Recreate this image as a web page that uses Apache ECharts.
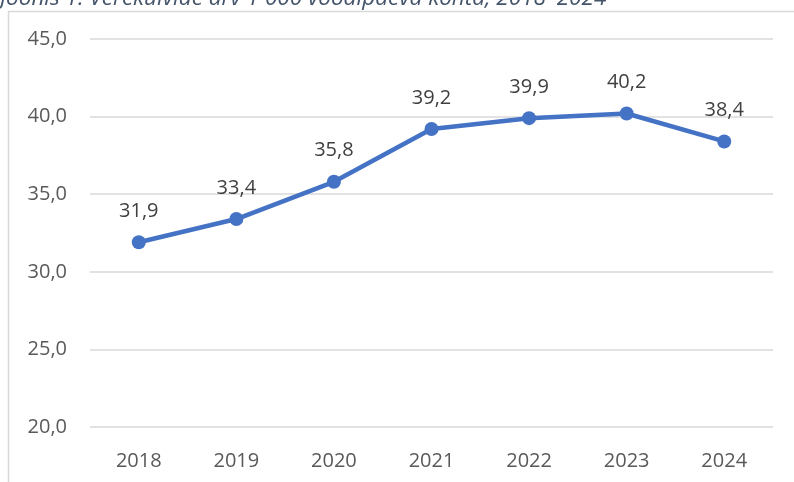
<!DOCTYPE html>
<html>
<head>
<meta charset="utf-8">
<script src="https://cdn.jsdelivr.net/npm/echarts@6/dist/echarts.min.js"></script>
<style>
  html, body { margin: 0; padding: 0; background: #fff; }
  #chart { width: 794px; height: 482px; }
</style>
</head>
<body>
<div id="chart"></div>
<script>
// Blood cultures per 1,000 bed-days by year
const years = ['2018', '2019', '2020', '2021', '2022', '2023', '2024'];
const cultures = [31.9, 33.4, 35.8, 39.2, 39.9, 40.2, 38.4];
const titleText = 'Joonis 1. Verekülvide arv 1 000 voodipäeva kohta, 2018–2024';

const fmt = v => v.toFixed(1).replace('.', ',');

const chart = echarts.init(document.getElementById('chart'), null, { renderer: 'canvas' });
chart.setOption({
  animation: false,
  backgroundColor: '#ffffff',
  textStyle: { fontFamily: 'Open Sans' },
  graphic: [
    {
      type: 'rect',
      shape: { x: 8.5, y: 11.5, width: 800, height: 500 },
      style: { fill: 'none', stroke: '#D9D9D9', lineWidth: 1.5 },
      silent: true
    },
    {
      type: 'text',
      left: 0,
      top: -13,
      style: {
        text: titleText,
        fontFamily: 'Open Sans',
        fontStyle: 'italic',
        fontSize: 22.5,
        fill: '#44546A'
      },
      silent: true
    }
  ],
  grid: { left: 90, right: 21, top: 39, bottom: 55, containLabel: false },
  xAxis: {
    type: 'category',
    data: years,
    boundaryGap: true,
    axisLine: { show: false },
    axisTick: { show: false },
    axisLabel: { color: '#595959', fontSize: 20, margin: 24 }
  },
  yAxis: {
    type: 'value',
    min: 20,
    max: 45,
    interval: 5,
    axisLine: { show: false },
    axisTick: { show: false },
    axisLabel: { color: '#595959', fontSize: 20, margin: 23, formatter: v => fmt(v) },
    splitLine: { lineStyle: { color: '#D9D9D9', width: 1.5 } }
  },
  series: [{
    type: 'line',
    data: cultures,
    symbol: 'circle',
    symbolSize: 14,
    lineStyle: { color: '#4472C4', width: 4.5 },
    itemStyle: { color: '#4472C4' },
    label: {
      show: true,
      position: 'top',
      distance: 14,
      color: '#404040',
      fontSize: 20,
      formatter: p => fmt(p.value)
    }
  }]
});
</script>
</body>
</html>
